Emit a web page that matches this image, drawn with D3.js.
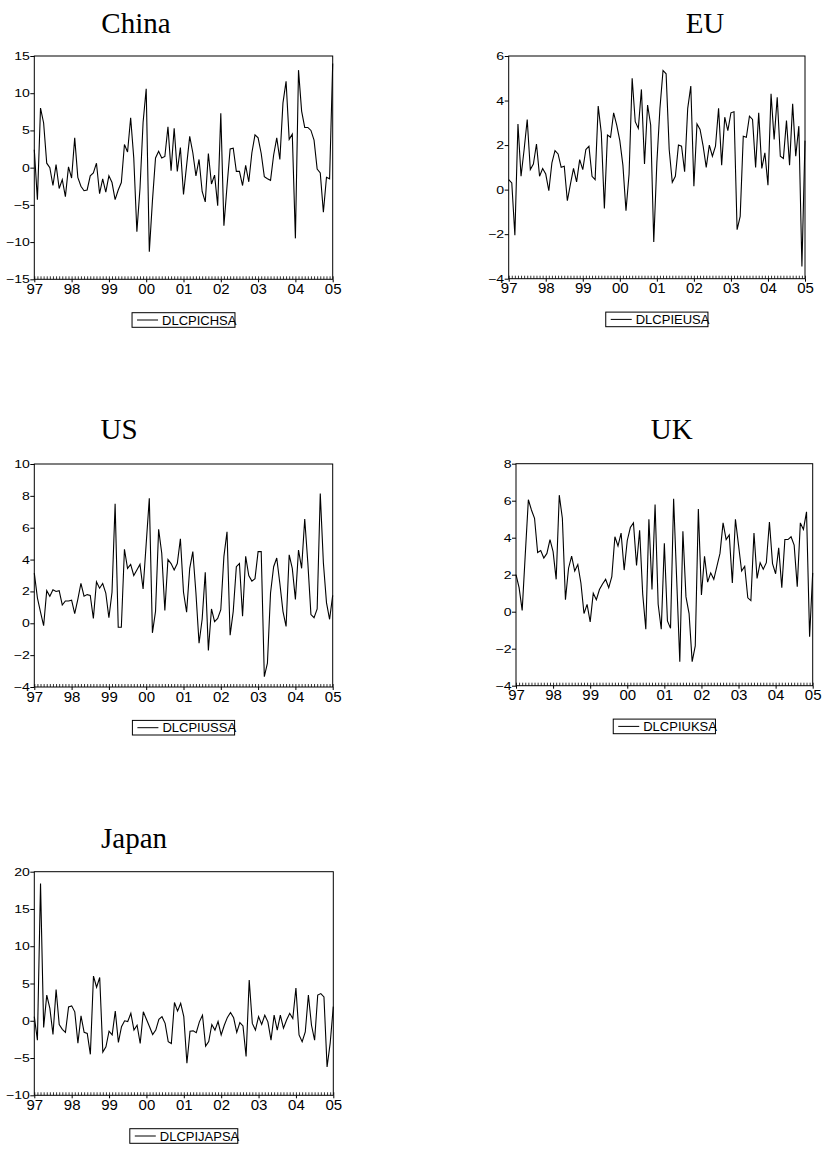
<!DOCTYPE html>
<html><head><meta charset="utf-8">
<script src="https://cdn.jsdelivr.net/npm/d3@7/dist/d3.min.js"></script>
<style>body{margin:0;background:#fff}svg{display:block}</style>
</head><body>
<svg id="c" width="822" height="1150"></svg>
<script>
// ---- data (monthly, 1997M01 .. 2005M01) ----
const yearLabels = ["97","98","99","00","01","02","03","04","05"];
const seriesNames = ["DLCPICHSA","DLCPIEUSA","DLCPIUSSA","DLCPIUKSA","DLCPIJAPSA"];
const panelTitles = ["China","EU","US","UK","Japan"];

const china = [2.4,-4.3,8.0,6.0,0.6,0.0,-2.4,0.4,-2.8,-1.6,-3.9,0.1,-1.4,4.0,-1.3,-2.5,-3.1,-3.0,-1.1,-0.7,
 0.6,-3.5,-1.5,-3.3,-1.1,-2.0,-4.3,-3.0,-2.0,3.1,2.1,6.7,1.3,-8.6,-2.8,6.1,10.6,-11.3,-4.5,1.3,
 2.2,1.3,1.5,5.5,-0.4,5.3,-0.5,2.7,-3.6,0.3,4.2,2.0,-1.1,1.1,-3.2,-4.6,1.9,-2.2,-1.0,-5.1,
 7.3,-7.8,-2.5,2.5,2.6,-0.5,-0.5,-2.4,0.3,-1.9,2.0,4.4,4.0,1.9,-1.2,-1.5,-1.7,1.7,4.0,1.1,
 8.7,11.6,3.8,4.5,-9.5,13.1,7.6,5.4,5.4,5.0,3.7,-0.2,-0.7,-6.0,-1.3,-1.5,14.0];
const eu = [0.45,0.3,-2.05,2.95,0.6,1.8,3.15,0.9,1.15,2.05,0.6,0.95,0.7,-0.05,1.2,1.75,1.6,1.0,1.05,-0.5,
 0.25,0.95,0.35,1.35,0.9,1.8,1.95,0.6,0.45,3.75,2.55,-0.85,2.45,2.35,3.45,2.9,2.2,1.1,-0.95,0.7,
 5.0,3.05,2.75,4.5,1.15,3.8,2.9,-2.35,1.2,3.65,5.35,5.2,1.8,0.33,0.6,2.0,1.95,0.8,3.65,4.65,
 0.15,2.95,2.7,1.95,1.0,2.0,1.5,1.95,3.65,1.1,3.25,2.65,3.45,3.5,-1.8,-1.2,2.4,2.35,3.3,3.15,
 1.0,3.45,0.95,1.65,0.2,4.3,2.25,4.15,1.5,1.4,3.1,1.1,3.85,1.5,2.85,-3.45,2.2];
const us = [3.15,1.6,0.7,-0.15,2.05,1.7,2.1,2.0,2.05,1.15,1.4,1.4,1.45,0.6,1.5,2.5,1.7,1.8,1.75,0.3,
 2.6,2.2,2.5,1.9,0.35,1.95,7.5,-0.25,-0.25,4.65,3.45,3.7,3.0,3.35,3.7,2.15,5.0,7.85,-0.6,0.75,
 5.9,4.4,0.8,4.0,3.75,3.35,3.75,5.3,1.95,0.7,3.45,4.5,1.9,-1.25,0.25,3.2,-1.7,0.9,0.1,0.3,
 0.85,4.2,5.75,-0.75,0.75,3.55,3.75,0.45,4.2,3.0,2.65,2.8,4.5,4.5,-3.35,-2.5,1.9,3.55,4.1,2.5,
 0.75,-0.2,4.3,3.45,1.5,4.6,3.45,6.55,3.8,0.55,0.35,0.9,8.15,3.8,1.3,0.25,1.75];
const uk = [2.0,1.3,0.07,3.1,6.05,5.5,5.05,3.2,3.3,2.9,3.15,3.9,3.25,1.75,6.3,5.05,0.65,2.35,3.0,2.2,
 2.55,1.55,-0.1,0.4,-0.55,1.0,0.65,1.2,1.5,1.75,1.3,1.9,4.05,3.55,4.25,2.25,3.85,4.55,4.8,2.5,
 4.4,0.95,-0.95,5.0,1.2,5.8,0.4,-0.95,3.7,-0.5,-0.9,6.1,1.7,-2.7,4.35,0.8,-0.1,-2.7,-1.85,5.55,
 0.9,3.0,1.6,2.1,1.75,2.45,3.15,4.8,3.9,4.15,1.55,5.0,3.6,2.2,2.45,0.75,0.6,4.25,1.8,2.65,
 2.3,2.65,4.85,2.6,2.05,3.45,1.3,3.9,3.9,4.05,3.6,1.35,4.8,4.45,5.4,-1.35,2.1];
const japan = [0.55,-2.6,18.4,-0.9,3.45,1.65,-1.85,4.2,-0.5,-1.15,-1.55,1.85,2.0,1.2,-3.0,0.65,-1.55,-1.7,-4.5,6.0,
 4.5,5.8,-4.2,-3.5,-1.4,-1.9,1.3,-2.9,-0.8,0.0,-0.1,1.0,-1.25,-0.6,-3.05,1.2,0.2,-0.8,-1.85,-1.25,
 0.2,0.55,-0.35,-2.8,-3.05,2.45,1.3,2.35,0.55,-5.7,-1.4,-1.35,-1.6,-0.15,0.75,-3.4,-2.8,-0.5,-1.25,-0.1,
 -1.9,-0.6,0.45,1.1,0.4,-1.55,-0.25,-0.7,-4.8,5.45,-0.35,-1.25,0.55,-0.5,0.75,-0.15,-2.6,0.75,-1.25,0.75,
 -1.0,0.1,1.0,0.3,4.4,-1.9,-2.8,-1.5,3.45,-0.6,-2.6,3.45,3.65,3.2,-6.2,-3.0,1.9];
const yDomains = [[-15,15],[-4,6],[-4,10],[-4,8],[-10,20]];
const yTickValues = [[-15,-10,-5,0,5,10,15],[-4,-2,0,2,4,6],[-4,-2,0,2,4,6,8,10],[-4,-2,0,2,4,6,8],[-10,-5,0,5,10,15,20]];
const allSeries = [china, eu, us, uk, japan];

// ---- layout ----
const layout = [
  {x0:34.3, x1:332.7, y0:56,    y1:279.3, tx:136,   ty:32.5},
  {x0:508.7,x1:805,   y0:56,    y1:278.7, tx:705,   ty:32.5},
  {x0:34.3, x1:332.7, y0:464,   y1:687,   tx:119,   ty:439},
  {x0:516,  x1:812.7, y0:463.7, y1:685.7, tx:671.7, ty:438.5},
  {x0:34.3, x1:333.3, y0:871.7, y1:1095.3,tx:134,   ty:848}
];

const svg = d3.select("#c");
const sans = "Arial, 'Liberation Sans', Helvetica, sans-serif";
const serif = "'Times New Roman', 'Liberation Serif', Times, serif";
const yStretch = 1.28;

allSeries.forEach((data, k) => {
  const L = layout[k];
  const n = data.length;
  const x = d3.scaleLinear().domain([0, n - 1]).range([L.x0, L.x1]);
  const y = d3.scaleLinear().domain(yDomains[k]).range([L.y1, L.y0]);
  const g = svg.append("g");

  // title
  g.append("text").attr("x", L.tx).attr("y", L.ty).attr("text-anchor", "middle")
    .attr("font-family", serif).attr("font-size", 29).attr("fill", "#000").text(panelTitles[k]);

  // series line
  g.append("path").datum(data)
    .attr("d", d3.line().x((d, i) => x(i)).y(d => y(d)))
    .attr("fill", "none").attr("stroke", "#000").attr("stroke-width", 1.1)
    .attr("stroke-linejoin", "miter");

  // y axis
  const ya = g.append("g").attr("transform", `translate(${L.x0},0)`)
    .call(d3.axisLeft(y).tickValues(yTickValues[k]).tickSize(4).tickPadding(1).tickFormat(d3.format("d")));
  ya.select(".domain").remove();
  ya.selectAll("line").attr("stroke", "#000");
  ya.selectAll("text").attr("font-family", sans).attr("font-size", 11).attr("fill", "#000")
    .attr("x", -4.5 / yStretch).attr("transform", `scale(${yStretch},1)`);

  // minor monthly ticks (inside)
  const xm = g.append("g").attr("transform", `translate(0,${L.y1})`)
    .call(d3.axisBottom(x).tickValues(d3.range(0, n)).tickSize(-3).tickFormat(""));
  xm.select(".domain").remove();
  xm.selectAll("line").attr("stroke", "#000").attr("stroke-width", 0.8);

  // major year ticks with labels
  const xa = g.append("g").attr("transform", `translate(0,${L.y1})`)
    .call(d3.axisBottom(x).tickValues(d3.range(0, n, 12)).tickSize(3).tickPadding(1)
      .tickFormat((d, i) => yearLabels[i]));
  xa.select(".domain").remove();
  xa.selectAll("line").attr("stroke", "#000");
  xa.selectAll("text").attr("font-family", sans).attr("font-size", 15).attr("fill", "#000");

  // frame
  g.append("rect").attr("x", L.x0).attr("y", L.y0).attr("width", L.x1 - L.x0).attr("height", L.y1 - L.y0)
    .attr("fill", "none").attr("stroke", "#000").attr("stroke-width", 1);

  // legend
  const cx = (L.x0 + L.x1) / 2;
  const lg = g.append("g");
  const txt = lg.append("text").attr("font-family", sans).attr("font-size", 13).attr("fill", "#000")
    .text(seriesNames[k]);
  const tw = txt.node().getComputedTextLength();
  const w = 30 + tw - 1.5, h = 14.6;
  const lx = cx - w / 2, ly = L.y1 + 33.4;
  lg.insert("rect", "text").attr("x", lx).attr("y", ly).attr("width", w).attr("height", h)
    .attr("fill", "none").attr("stroke", "#000").attr("stroke-width", 1);
  lg.append("line").attr("x1", lx + 5).attr("x2", lx + 26).attr("y1", ly + h / 2).attr("y2", ly + h / 2)
    .attr("stroke", "#000").attr("stroke-width", 1);
  txt.attr("x", lx + 30).attr("y", ly + h / 2 + 4.6);
});
</script>
</body></html>
